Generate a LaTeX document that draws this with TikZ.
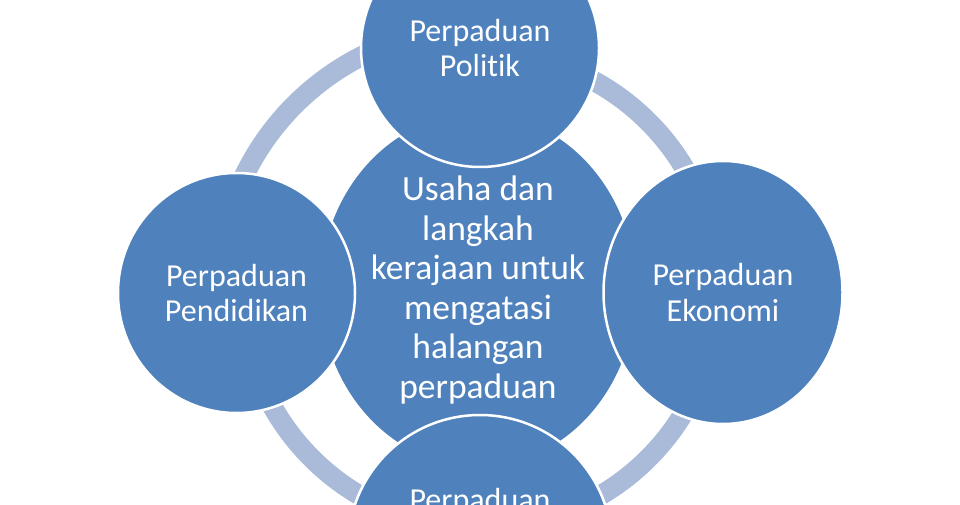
\documentclass[tikz,border=0pt]{standalone}
\usepackage{fontspec}
\setmainfont{Carlito}[Ligatures=NoCommon]
\usepackage{tikz}
\usetikzlibrary{shapes.geometric}
\definecolor{myblue}{RGB}{79,129,189}
\definecolor{ringC}{RGB}{170,187,218}
\tikzset{
    ring/.style   = {draw=ringC, line width=20pt},
    bubble/.style = {ellipse, draw=white, line width=2.5pt, fill=myblue,
            text=white, align=center, inner sep=0pt,
            font=\fontsize{32}{35.5}\selectfont},
    hub/.style    = {bubble, font=\fontsize{35.5}{39.5}\selectfont},
    caption/.style = {text=white, inner sep=0pt,
            font=\fontsize{32}{35.5}\selectfont},
}
\newcommand{\RingR}{238}
\newcommand{\RingRUL}{262}

\begin{document}
\begin{tikzpicture}[x=1pt,y=1pt]
    \useasboundingbox (0,0) rectangle (960,504);
    \coordinate (O) at (480,214);
    % ring behind the bubbles
    \foreach \a in {0,180,270}
        \draw[ring] ([shift={(\a:\RingR)}]O) arc[start angle=\a, delta angle=90, radius=\RingR];
    \draw[ring] ([shift={(90:\RingRUL)}]O) arc[start angle=90, delta angle=90, radius=\RingRUL];

    % centre
    \node[hub, minimum width=318pt, minimum height=356pt] (hub) at (478,214)
        {Usaha dan\\langkah\\kerajaan untuk\\mengatasi\\halangan\\perpaduan};

    % outer bubbles
    \node[bubble, minimum width=238pt, minimum height=238pt] (politik) at (480,456)
        {Perpaduan\\Politik};
    \node[bubble, minimum width=239pt, minimum height=263pt] (ekonomi) at (723,211.5)
        {Perpaduan\\Ekonomi};
    \node[bubble, minimum width=237pt, minimum height=240pt] (pendidikan) at (236.5,211)
        {Perpaduan\\Pendidikan};
    \node[bubble, minimum width=264pt, minimum height=264pt] (bawah) at (480,-43) {};
    \node[caption, anchor=base] (bawahtxt) at (480,-6) {Perpaduan};
\end{tikzpicture}
\end{document}
